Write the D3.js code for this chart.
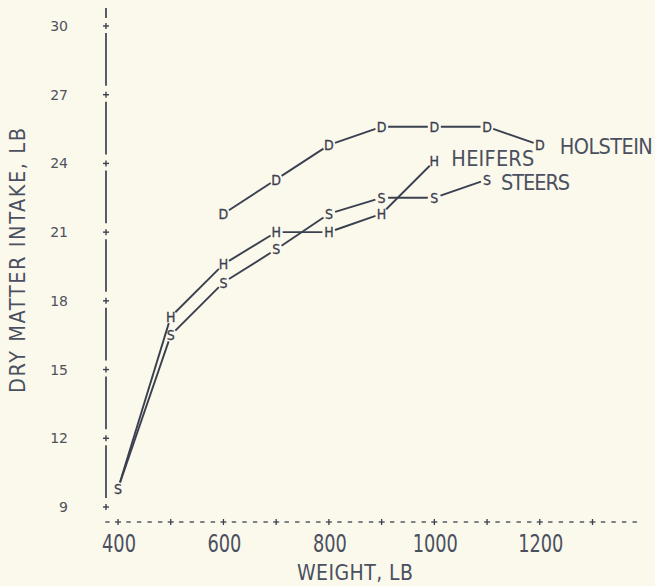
<!DOCTYPE html>
<html>
<head>
<meta charset="utf-8">
<script src="https://cdn.jsdelivr.net/npm/d3@7/dist/d3.min.js"></script>
<style>
  body { margin: 0; background: #fbf9ec; }
  svg { display: block; }
  .narrow { font-family: "Liberation Sans Narrow", "Arial Narrow", "DejaVu Sans Condensed", sans-serif; }
</style>
</head>
<body>
<svg id="chart" width="655" height="586"></svg>
<script>
// values
var holsteinWeight = [600, 700, 800, 900, 1000, 1100, 1200];
var holsteinIntake = [21.8, 23.3, 24.8, 25.6, 25.6, 25.6, 24.8];
var heiferWeight = [400, 500, 600, 700, 800, 900, 1000];
var heiferIntake = [9.8, 17.3, 19.6, 21.0, 21.0, 21.8, 24.1];
var steerWeight = [400, 500, 600, 700, 800, 900, 1000, 1100];
var steerIntake = [9.8, 16.5, 18.8, 20.25, 21.8, 22.5, 22.5, 23.3];

var xTicks = [400, 500, 600, 700, 800, 900, 1000, 1100, 1200, 1300];
var xTickLabels = [400, 600, 800, 1000, 1200];
var yTicks = [9, 12, 15, 18, 21, 24, 27, 30];

var ink = "#3b4050", textInk = "#4a5060";

var svg = d3.select("#chart");

var x = d3.scaleLinear().domain([400, 1300]).range([118, 592.5]),
    y = d3.scaleLinear().domain([9, 30]).range([507, 26]);
var axisX = 106;

// ---- y axis: broken vertical line with + ticks
var yAx = svg.append("g");
yAx.selectAll(".seg")
  .data(d3.pairs(yTicks))
  .enter().append("line")
    .attr("x1", axisX).attr("x2", axisX)
    .attr("y1", function(d) { return y(d[0]) - 9; })
    .attr("y2", function(d) { return y(d[1]) + 7; })
    .attr("stroke", ink).attr("stroke-width", 1.7);
yAx.append("line")
    .attr("x1", axisX).attr("x2", axisX)
    .attr("y1", y(30) - 18).attr("y2", y(30) - 8)
    .attr("stroke", ink).attr("stroke-width", 1.7);

var yt = yAx.selectAll(".ytick")
  .data(yTicks)
  .enter().append("g")
    .attr("transform", function(d) { return "translate(" + axisX + "," + y(d) + ")"; });
yt.append("line").attr("x1", -3).attr("x2", 3).attr("stroke", ink).attr("stroke-width", 1.4);
yt.append("line").attr("y1", -3).attr("y2", 3).attr("stroke", ink).attr("stroke-width", 1.4);
yt.append("text")
    .attr("x", -38).attr("dy", "0.36em")
    .attr("text-anchor", "end")
    .attr("font-family", "DejaVu Sans, sans-serif")
    .attr("font-size", 14)
    .attr("fill", "#4d525c")
    .text(function(d) { return d; });

// ---- x axis: dashed line with + ticks
var axisY = 522;
var dashVals = [380];
xTicks.forEach(function(v) { for (var k = 1; k <= 4; k++) dashVals.push(v + 20 * k); });
var xAx = svg.append("g");
xAx.selectAll(".dash")
  .data(dashVals)
  .enter().append("line")
    .attr("x1", function(d) { return x(d) - 2.2; })
    .attr("x2", function(d) { return x(d) + 2.2; })
    .attr("y1", axisY).attr("y2", axisY)
    .attr("stroke", ink).attr("stroke-width", 1.3);
var xt = xAx.selectAll(".xtick")
  .data(xTicks)
  .enter().append("g")
    .attr("transform", function(d) { return "translate(" + x(d) + "," + axisY + ")"; });
xt.append("line").attr("x1", -3).attr("x2", 3).attr("stroke", ink).attr("stroke-width", 1.3);
xt.append("line").attr("y1", -3).attr("y2", 3).attr("stroke", ink).attr("stroke-width", 1.3);
xAx.selectAll(".xlab")
  .data(xTickLabels)
  .enter().append("text")
    .attr("class", "narrow")
    .attr("x", function(d) { return x(d) + 1 - String(d).length * 5.65; })
    .attr("y", 552)
    .attr("font-size", 24)
    .attr("textLength", function(d) { return String(d).length * 11.3; })
    .attr("lengthAdjust", "spacingAndGlyphs")
    .attr("fill", textInk)
    .text(function(d) { return d; });

// ---- axis titles
svg.append("text")
    .attr("class", "narrow")
    .attr("x", 297).attr("y", 580)
    .attr("font-size", 21)
    .attr("textLength", 116).attr("lengthAdjust", "spacing")
    .attr("fill", textInk)
    .text("WEIGHT, LB");
svg.append("text")
    .attr("class", "narrow")
    .attr("transform", "translate(25,393) rotate(-90)")
    .attr("font-size", 21.5)
    .attr("textLength", 265).attr("lengthAdjust", "spacing")
    .attr("fill", textInk)
    .text("DRY MATTER INTAKE, LB");

// ---- series
var series = [
  { name: "HOLSTEIN", mark: "D", w: holsteinWeight, v: holsteinIntake, dx: 20, dy: 9, len: 93 },
  { name: "HEIFERS", mark: "H", w: heiferWeight, v: heiferIntake, dx: 17, dy: 5, len: 83 },
  { name: "STEERS", mark: "S", w: steerWeight, v: steerIntake, dx: 14, dy: 11, len: 69 }
];

function hidden(s, i) {
  // the H at 400 lb is overprinted by the S
  return s.mark === "H" && steerWeight.indexOf(s.w[i]) >= 0 &&
    Math.abs(steerIntake[steerWeight.indexOf(s.w[i])] - s.v[i]) < 0.2;
}

var gap = 6.5;
series.forEach(function(s) {
  var pts = s.w.map(function(w, i) { return [x(w), y(s.v[i])]; });
  var g = svg.append("g");
  g.selectAll("line")
    .data(d3.pairs(pts))
    .enter().append("line")
      .each(function(d) {
        var dxp = d[1][0] - d[0][0], dyp = d[1][1] - d[0][1],
            L = Math.sqrt(dxp * dxp + dyp * dyp), ux = dxp / L, uy = dyp / L;
        d3.select(this)
          .attr("x1", d[0][0] + ux * gap).attr("y1", d[0][1] + uy * gap)
          .attr("x2", d[1][0] - ux * gap).attr("y2", d[1][1] - uy * gap);
      })
      .attr("stroke", ink).attr("stroke-width", 1.9);
  g.selectAll("text.mk")
    .data(pts.filter(function(p, i) { return !hidden(s, i); }))
    .enter().append("text")
      .attr("class", "narrow")
      .attr("x", function(d) { return d[0]; })
      .attr("y", function(d) { return d[1]; })
      .attr("dy", "0.36em")
      .attr("text-anchor", "middle")
      .attr("font-size", 14)
      .attr("stroke", ink).attr("stroke-width", 0.3)
      .attr("fill", ink)
      .text(s.mark);
  var last = pts[pts.length - 1];
  g.append("text")
      .attr("class", "narrow")
      .attr("x", last[0] + s.dx)
      .attr("y", last[1] + s.dy)
      .attr("font-size", 21.5)
      .attr("textLength", s.len).attr("lengthAdjust", "spacing")
      .attr("fill", textInk)
      .text(s.name);
});
</script>
</body>
</html>
